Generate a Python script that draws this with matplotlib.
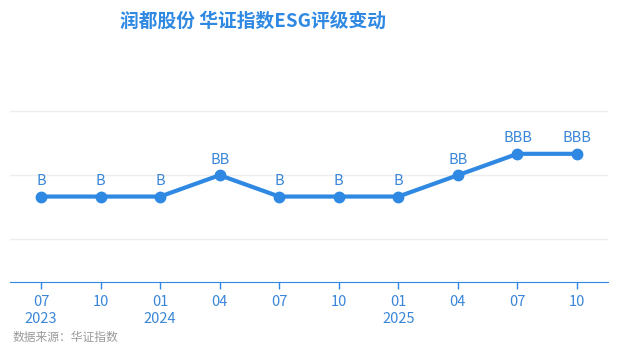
import matplotlib.pyplot as plt

plt.rcParams['font.family'] = ['Noto Sans CJK SC', 'DejaVu Sans']

# 数据
months = ["07\n2023", "10", "01\n2024", "04", "07", "10", "01\n2025", "04", "07", "10"]
ratings = ["B", "B", "B", "BB", "B", "B", "B", "BB", "BBB", "BBB"]
grade_scale = ["C", "CC", "CCC", "B", "BB", "BBB", "A", "AA", "AAA"]
grade_values = [grade_scale.index(r) + 1 for r in ratings]

blue = "#2f89e3"
label_blue = "#3a86d8"

fig = plt.figure(figsize=(6.18, 3.55), dpi=100)
ax = fig.add_axes([10 / 618, 73 / 355, 598 / 618, 235 / 355])

x = list(range(len(months)))
ax.plot(x, grade_values, color=blue, linewidth=3, marker="o", markersize=7.5,
        solid_capstyle="round", zorder=3)
for xi, yi, r in zip(x, grade_values, ratings):
    ax.annotate(r, (xi, yi), xytext=(0, 6), textcoords="offset points",
                ha="center", va="bottom", color=label_blue, fontsize=10.5)

ax.set_xlim(-0.52, 9.52)
ax.set_ylim(0, 11)
ax.set_yticks([2, 5, 8])
ax.yaxis.grid(True, color="#eeeeee", linewidth=1)
ax.tick_params(axis="y", length=0, labelleft=False)
ax.set_xticks(x)
ax.set_xticklabels(months, color=label_blue, fontsize=10.5, linespacing=1.35)
ax.tick_params(axis="x", colors=blue, length=5, width=1, pad=4, labelcolor=label_blue)
for side in ["top", "right", "left"]:
    ax.spines[side].set_visible(False)
ax.spines["bottom"].set_color(blue)
ax.set_axisbelow(True)

fig.text(0.41, 1 - 21 / 355, "润都股份 华证指数ESG评级变动", ha="center", va="center",
         color=blue, fontsize=13.5, fontweight="bold")
fig.text(13 / 618, 1 - 337 / 355, "数据来源：华证指数", ha="left", va="center",
         color="#9a9a9a", fontsize=8.5)

fig.savefig("out.png", dpi=100)
